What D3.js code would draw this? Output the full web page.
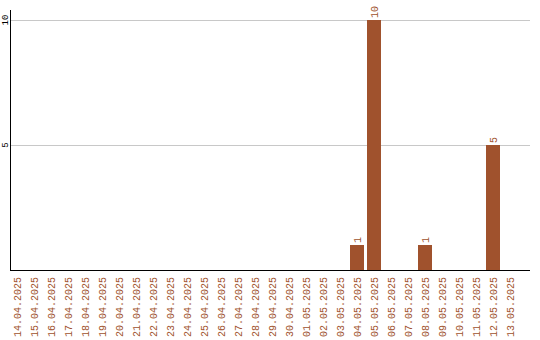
<!DOCTYPE html>
<html>
<head>
<meta charset="utf-8">
<script src="https://cdn.jsdelivr.net/npm/d3@7"></script>
<style>
  html, body { margin: 0; padding: 0; background: #fff; }
  svg { display: block; }
  text { font-family: "Liberation Mono", "Courier New", monospace; }
</style>
</head>
<body>
<script>
// Daily counts, 14.04.2025 – 13.05.2025
const days = [
  "14.04.2025","15.04.2025","16.04.2025","17.04.2025","18.04.2025",
  "19.04.2025","20.04.2025","21.04.2025","22.04.2025","23.04.2025",
  "24.04.2025","25.04.2025","26.04.2025","27.04.2025","28.04.2025",
  "29.04.2025","30.04.2025","01.05.2025","02.05.2025","03.05.2025",
  "04.05.2025","05.05.2025","06.05.2025","07.05.2025","08.05.2025",
  "09.05.2025","10.05.2025","11.05.2025","12.05.2025","13.05.2025"
];
const counts = [
  0,0,0,0,0, 0,0,0,0,0,
  0,0,0,0,0, 0,0,0,0,0,
  1,10,0,0,1, 0,0,0,5,0
];
const yTicks = [5, 10];

const W = 540, H = 340;
const barColor = "#a0522d";
const labelColor = "#a0522d";

const svg = d3.select("body").append("svg")
  .attr("width", W).attr("height", H);

const x = d3.scaleBand()
  .domain(days)
  .range([10, 517])
  .paddingInner(3 / 17)
  .paddingOuter(0)
  .align(0);

const y = d3.scaleLinear()
  .domain([0, 10.4])
  .range([270, 10]);

// horizontal gridlines
svg.append("g")
  .selectAll("line")
  .data(yTicks)
  .join("line")
  .attr("x1", 11).attr("x2", 530)
  .attr("y1", d => y(d) + 0.5).attr("y2", d => y(d) + 0.5)
  .attr("stroke", "#c8c8c8").attr("stroke-width", 1);

// y tick labels, rotated
svg.append("g")
  .selectAll("text")
  .data(yTicks)
  .join("text")
  .attr("transform", d => `translate(5,${y(d)}) rotate(-90)`)
  .attr("text-anchor", "middle")
  .attr("dy", "0.35em")
  .attr("font-size", 9)
  .attr("fill", "#000")
  .text(d => d);

// bars
const data = days.map((d, i) => ({ day: d, value: counts[i] }));
const nonZero = data.filter(d => d.value > 0);

svg.append("g")
  .selectAll("rect")
  .data(nonZero)
  .join("rect")
  .attr("x", d => x(d.day))
  .attr("width", x.bandwidth())
  .attr("y", d => y(d.value))
  .attr("height", d => y(0) - y(d.value))
  .attr("fill", barColor);

// value labels above bars
svg.append("g")
  .selectAll("text")
  .data(nonZero)
  .join("text")
  .attr("transform", d => `translate(${x(d.day) + x.bandwidth() / 2},${y(d.value) - 2}) rotate(-90)`)
  .attr("text-anchor", "start")
  .attr("dy", "0.35em")
  .attr("font-size", 10)
  .attr("fill", labelColor)
  .text(d => d.value);

// axis lines
svg.append("line")
  .attr("x1", 10.5).attr("x2", 10.5)
  .attr("y1", 10).attr("y2", 270)
  .attr("stroke", "#000").attr("stroke-width", 1);
svg.append("line")
  .attr("x1", 10).attr("x2", 530)
  .attr("y1", 270.5).attr("y2", 270.5)
  .attr("stroke", "#000").attr("stroke-width", 1);

// category labels, rotated
svg.append("g")
  .selectAll("text")
  .data(days)
  .join("text")
  .attr("transform", d => `translate(${x(d) + x.bandwidth() / 2},277) rotate(-90)`)
  .attr("text-anchor", "end")
  .attr("dy", "0.35em")
  .attr("font-size", 10)
  .attr("fill", labelColor)
  .text(d => d);
</script>
</body>
</html>
